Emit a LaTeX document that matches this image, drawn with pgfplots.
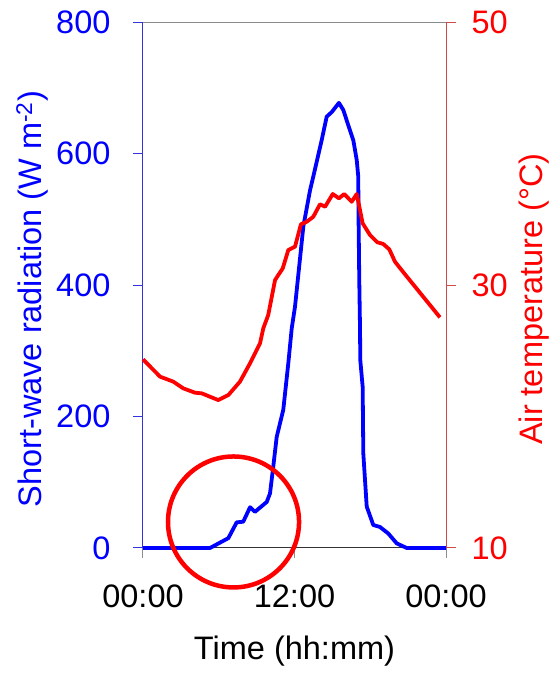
\documentclass[border=0pt]{standalone}
\usepackage{pgfplots}
\pgfplotsset{compat=1.18}
\usepackage{fontspec}
\setmainfont{Liberation Sans}
\definecolor{axblue}{RGB}{50,50,225}
\definecolor{axred}{RGB}{205,75,75}
\definecolor{axgray}{RGB}{140,140,140}
\begin{document}
\begin{tikzpicture}[font=\fontsize{32.5}{38}\selectfont]
\useasboundingbox (0,0) rectangle (555pt,673pt);
\begin{axis}[at={(143pt,125pt)}, anchor=south west, scale only axis,
  width=303pt, height=526pt,
  xmin=0, xmax=24, ymin=0, ymax=800,
  axis x line*=bottom, axis y line*=left,
  x axis line style={black!80, line width=1pt, -},
  y axis line style={axblue, line width=1pt, -},
  xtick={0,12,24}, xticklabels={00:00,12:00,00:00},
  ytick={0,200,400,600,800},
  tick align=outside, major tick length=10pt,
  xtick style={axgray, line width=1pt},
  ytick style={axblue, line width=1pt},
  yticklabel style={text=blue, xshift=-19pt},
  xticklabel style={text=black, yshift=-23pt},
  /pgf/number format/assume math mode=true,
  ylabel={Short-wave radiation (W m\textsuperscript{-2})},
  ylabel style={text=blue, at={(axis description cs:-0.366,0.473)}, anchor=center},
  xlabel={Time (hh:mm)},
  xlabel style={at={(axis description cs:0.5,-0.196)}, anchor=center},
  clip=false,
]
\addplot[blue, line width=3.8pt, line join=round] coordinates {
(0,0) (5.31,0) (6.76,15) (7.42,39) (7.94,40) (8.48,62) (8.87,55) (9.80,70)
(10.06,83) (10.32,124) (10.59,169) (11.11,210) (11.51,281) (11.78,334)
(12.04,367) (12.70,489) (13.23,544) (13.49,565) (14.15,620) (14.55,656)
(14.95,663) (15.52,677) (15.87,666) (16.26,643) (16.66,620) (16.93,590)
(17.05,565) (17.07,509) (17.13,408) (17.19,334) (17.21,286) (17.40,245)
(17.45,144) (17.72,63) (18.24,35) (18.77,32) (19.43,22) (20.10,7)
(20.89,0) (24,0)
};
\end{axis}
\begin{axis}[at={(143pt,125pt)}, anchor=south west, scale only axis,
  width=303pt, height=526pt,
  xmin=0, xmax=24, ymin=10, ymax=50,
  axis x line*=top, axis y line*=right,
  x axis line style={axgray, line width=1pt, -},
  y axis line style={axred, line width=1pt, -},
  xtick=\empty,
  ytick={10,30,50},
  tick align=outside, major tick length=10pt,
  ytick style={axred, line width=1pt},
  yticklabel style={text=red, xshift=12pt},
  /pgf/number format/assume math mode=true,
  ylabel={Air temperature (°C)},
  ylabel style={text=red, at={(axis description cs:1.292,0.473)}, anchor=center},
  clip=false,
]
\addplot[red, line width=3.8pt, line join=round] coordinates {
(0,24.35) (1.35,23.03) (2.40,22.65) (3.19,22.14) (4.12,21.81) (4.65,21.76)
(5.96,21.25) (6.76,21.63) (7.68,22.65) (8.48,24.05) (9.27,25.57) (9.53,26.71)
(9.92,27.72) (10.46,30.38) (11.07,31.27) (11.51,32.66) (12.04,32.91)
(12.51,34.62) (12.97,34.81) (13.49,35.19) (14.02,36.14) (14.42,35.95)
(15.03,36.92) (15.52,36.59) (15.94,36.92) (16.53,36.33) (16.93,36.92)
(17.40,34.69) (17.98,33.80) (18.56,33.25) (19.03,33.12) (19.51,32.71)
(19.96,31.77) (20.62,30.97) (23.52,27.54)
};
\draw[red, line width=4.5pt] (axis cs:7.17,11.98) ellipse [x radius=5.19, y radius=4.98];
\end{axis}
\end{tikzpicture}
\end{document}
